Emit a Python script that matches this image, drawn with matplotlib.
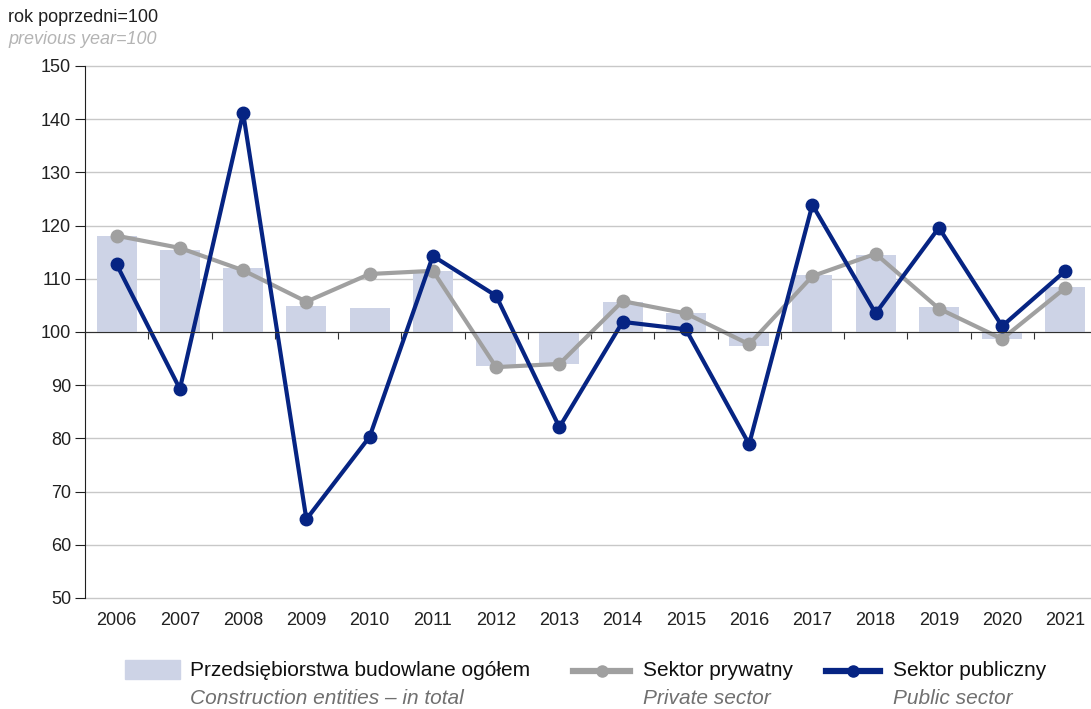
import matplotlib.pyplot as plt
from matplotlib.lines import Line2D
from matplotlib.patches import Rectangle
import matplotlib.transforms as mtransforms
import numpy as np

plt.rcParams['font.family'] = ['Liberation Sans', 'DejaVu Sans']

years = ["2006", "2007", "2008", "2009", "2010", "2011", "2012", "2013",
         "2014", "2015", "2016", "2017", "2018", "2019", "2020", "2021"]
total = [118.0, 115.4, 112.0, 104.9, 104.6, 111.5, 93.6, 94.0,
         105.7, 103.5, 97.4, 110.7, 114.4, 104.7, 98.7, 108.4]
private = [118.1, 115.8, 111.6, 105.7, 110.9, 111.5, 93.4, 94.0,
           105.8, 103.5, 97.7, 110.5, 114.7, 104.4, 98.7, 108.3]
public = [112.7, 89.3, 141.2, 64.8, 80.3, 114.3, 106.8, 82.1,
          101.9, 100.5, 78.9, 123.9, 103.5, 119.6, 101.1, 111.5]

labels_pl = ["Przedsiębiorstwa budowlane ogółem", "Sektor prywatny", "Sektor publiczny"]
labels_en = ["Construction entities – in total", "Private sector", "Public sector"]

BAR = "#cdd3e6"
GRAY = "#a0a0a0"
NAVY = "#062483"

W, H = 1091, 709
fig = plt.figure(figsize=(W / 100, H / 100), dpi=100)
ax = fig.add_axes([85 / W, (H - 598) / H, (1097 - 85) / W, (598 - 66) / H])

x = np.arange(len(years))
base = 100
ax.bar(x, np.array(total) - base, bottom=base, width=0.63, color=BAR, zorder=2)
ax.plot(x, private, color=GRAY, lw=3, marker="o", ms=9, zorder=3)
ax.plot(x, public, color=NAVY, lw=3, marker="o", ms=9, zorder=4)

ax.set_xlim(-0.5, len(years) - 0.5)
ax.set_ylim(50, 150)
ax.set_yticks(np.arange(50, 151, 10))
ax.yaxis.grid(True, color="#c8c8c8", lw=1)
for gl in ax.get_ygridlines():
    gl.set_clip_on(False)
ax.set_axisbelow(True)

for s in ["top", "right"]:
    ax.spines[s].set_visible(False)
ax.spines["left"].set_color("#202020")
ax.spines["bottom"].set_position(("data", base))
ax.spines["bottom"].set_color("#303030")
ax.spines["bottom"].set_zorder(5)
ax.set_xticks(np.arange(len(years) + 1) - 0.5)
ax.set_xticklabels([])
ax.tick_params(axis="x", direction="out", length=5, color="#303030")
ax.tick_params(axis="y", direction="out", length=7, pad=3, color="#202020",
               labelsize=13, labelcolor="#202020")

trans = mtransforms.blended_transform_factory(ax.transData, ax.transAxes)
for xi, lab in zip(x, years):
    ax.text(xi, -0.042, lab, transform=trans, ha="center", va="center",
            fontsize=13, color="#202020")

fig.text(8 / W, 1 - 18 / H, "rok poprzedni=100", fontsize=13, color="#202020", va="center")
fig.text(8 / W, 1 - 39 / H, "previous year=100", fontsize=13, color="#b4b4b4",
         style="italic", va="center")

# legend
ly = 1 - 671 / H
ly2 = 1 - 699 / H
fig.patches.append(Rectangle((125 / W, 1 - 679 / H), 55 / W, 19 / H,
                             transform=fig.transFigure, color=BAR))
for x0, x1, c in [(573, 630, GRAY), (826, 880, NAVY)]:
    fig.lines.append(Line2D([x0 / W, x1 / W], [ly, ly], transform=fig.transFigure,
                            color=c, lw=4.5))
    fig.lines.append(Line2D([(x0 + x1) / 2 / W], [ly], transform=fig.transFigure,
                            color=c, marker="o", ms=8))
for tx, pl, en in zip([190, 643, 893], labels_pl, labels_en):
    fig.text(tx / W, ly, pl, fontsize=15, color="#101010", va="center")
    fig.text(tx / W, ly2, en, fontsize=15, color="#707070", style="italic", va="center")

fig.savefig("out.png", dpi=100)
